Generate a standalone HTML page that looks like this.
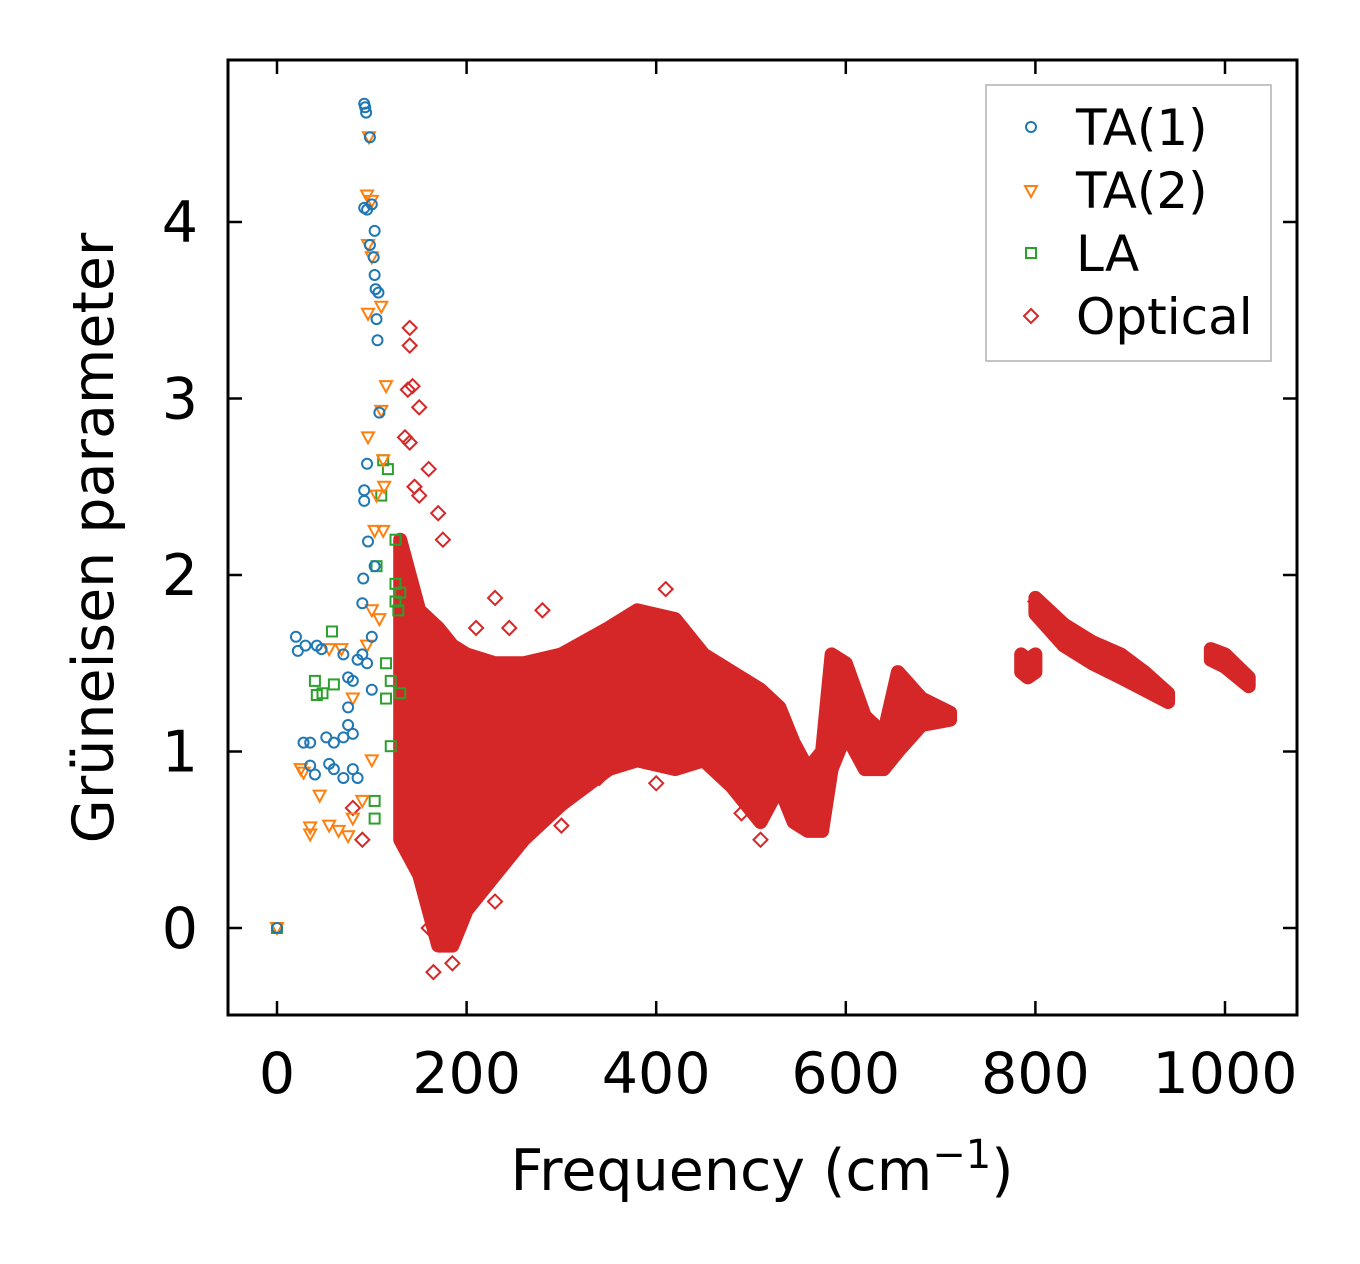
<!DOCTYPE html>
<html><head><meta charset="utf-8">
<style>
html,body{margin:0;padding:0;background:#fff;}
svg{display:block;font-family:"DejaVu Sans","Liberation Sans",sans-serif;}
</style></head>
<body>
<svg id="chart" width="1360" height="1264" viewBox="0 0 1360 1264" xmlns="http://www.w3.org/2000/svg">
<g id="marks"></g>
<g id="axes"></g>
<text x="762" y="1190" font-size="57" text-anchor="middle">Frequency (cm<tspan dy="-22" font-size="40">−1</tspan><tspan dy="22">)</tspan></text>
<text transform="translate(113,538) rotate(-90)" font-size="57" text-anchor="middle">Grüneisen parameter</text>
<g>
<rect x="986" y="85" width="285" height="276" fill="#fff" stroke="#b0b0b0" stroke-width="1.5"/>
<circle cx="1031" cy="127" r="5" fill="none" stroke="#1f77b4" stroke-width="2"/>
<text x="1076" y="145" font-size="50">TA(1)</text>
<path d="M1025,186 L1037,186 L1031,197 Z" fill="none" stroke="#ff7f0e" stroke-width="2"/>
<text x="1076" y="208" font-size="50">TA(2)</text>
<rect x="1026" y="248" width="10" height="10" fill="none" stroke="#2ca02c" stroke-width="2"/>
<text x="1076" y="271" font-size="50">LA</text>
<path d="M1031,309 L1038,316 L1031,323 L1024,316 Z" fill="none" stroke="#d62728" stroke-width="2"/>
<text x="1076" y="334" font-size="50">Optical</text>
</g>
</svg>
<script>
// ---- data ----
const xTicks = [0, 200, 400, 600, 800, 1000];
const yTicks = [0, 1, 2, 3, 4];
const opticalBandFreq = [[130,150,170,185,200,230,260,300,350,380,420,450,480,510,530,545,560,575,585,600,620,640,655,680,710],[785,792,800],[800,830,860,890,915,940],[985,1000,1025]];
const opticalBandLow = [[0.5,0.3,-0.1,-0.1,0.1,0.3,0.5,0.7,0.9,0.95,0.9,0.95,0.8,0.6,0.8,0.6,0.55,0.55,0.9,1.1,0.9,0.9,1.0,1.15,1.18],[1.45,1.42,1.45],[1.78,1.6,1.5,1.42,1.35,1.28],[1.52,1.48,1.37]];
const opticalBandHigh = [[2.2,1.8,1.7,1.6,1.55,1.5,1.5,1.55,1.7,1.8,1.75,1.55,1.45,1.35,1.25,1.05,0.9,1.0,1.55,1.5,1.2,1.1,1.45,1.3,1.22],[1.55,1.52,1.55],[1.87,1.72,1.62,1.55,1.45,1.33],[1.58,1.55,1.42]];
const opticalFreq = [140,140,138,143,150,135,140,160,145,170,230,245,280,410,80,165,185,160,230,300,340,400,490,510,800,90,175,150,210];
const opticalGamma = [3.4,3.3,3.05,3.07,2.95,2.78,2.75,2.6,2.5,2.35,1.87,1.7,1.8,1.92,0.68,-0.25,-0.2,0.0,0.15,0.58,0.85,0.82,0.65,0.5,1.85,0.5,2.2,2.45,1.7];
const ta1Freq = [92,93,94,98,92,95,100,103,98,102,103,104,107,105,106,108,95,92,92,96,103,91,90,100,20,22,30,42,47,70,85,80,75,28,35,52,60,70,75,80,35,40,55,60,70,80,85,0,95,90,100,75];
const ta1Gamma = [4.67,4.65,4.62,4.48,4.08,4.07,4.1,3.95,3.87,3.8,3.7,3.62,3.6,3.45,3.33,2.92,2.63,2.48,2.42,2.19,2.05,1.98,1.84,1.65,1.65,1.57,1.6,1.6,1.58,1.55,1.52,1.4,1.42,1.05,1.05,1.08,1.05,1.08,1.15,1.1,0.92,0.87,0.93,0.9,0.85,0.9,0.85,0,1.5,1.55,1.35,1.25];
const ta2Freq = [97,95,100,96,100,110,96,115,110,96,112,105,113,103,112,100,108,95,68,55,80,25,28,45,35,35,55,65,75,80,90,100,0];
const ta2Gamma = [4.48,4.15,4.12,3.87,3.8,3.52,3.48,3.07,2.93,2.78,2.65,2.45,2.5,2.25,2.25,1.8,1.75,1.6,1.58,1.58,1.3,0.9,0.88,0.75,0.57,0.53,0.58,0.55,0.52,0.62,0.72,0.95,0];
const laFreq = [112,110,117,125,105,125,125,128,130,58,40,42,48,60,115,120,115,120,103,103,130,0];
const laGamma = [2.65,2.45,2.6,2.2,2.05,1.95,1.85,1.8,1.9,1.68,1.4,1.32,1.33,1.38,1.5,1.4,1.3,1.03,0.72,0.62,1.33,0];

// ---- scales ----
const X0 = 228, X1 = 1297, Y0 = 60, Y1 = 1015;
function xs(v){ return 277 + v * 0.948; }
function ys(v){ return 928 - v * 176.5; }
const NS = "http://www.w3.org/2000/svg";
const marks = document.getElementById('marks');
const axes = document.getElementById('axes');
function mk(tag, attrs, parent){ const e=document.createElementNS(NS,tag); for(const k in attrs) e.setAttribute(k,attrs[k]); parent.appendChild(e); return e; }

opticalBandFreq.forEach((fr, s) => {
  let d = '';
  fr.forEach((f,i)=>{ d += (i?'L':'M') + xs(f).toFixed(1) + ',' + ys(opticalBandHigh[s][i]).toFixed(1); });
  for(let i=fr.length-1;i>=0;i--){ d += 'L' + xs(fr[i]).toFixed(1) + ',' + ys(opticalBandLow[s][i]).toFixed(1); }
  d += 'Z';
  const p = mk('path', {d:d, fill:'#d62728', stroke:'#d62728', 'stroke-width':14, 'stroke-linejoin':'round'}, marks);
  
  
});
opticalFreq.forEach((f,i)=>{
  const x=xs(f), y=ys(opticalGamma[i]);
  const p = mk('path', {d:`M${x},${y-7}L${x+7},${y}L${x},${y+7}L${x-7},${y}Z`, fill:'none', stroke:'#d62728', 'stroke-width':2}, marks);
  
  
});
laFreq.forEach((f,i)=>{
  const x=xs(f), y=ys(laGamma[i]);
  const r = mk('rect', {x:x-5, y:y-5, width:10, height:10, fill:'none', stroke:'#2ca02c', 'stroke-width':2}, marks);
  
  
});
ta2Freq.forEach((f,i)=>{
  const x=xs(f), y=ys(ta2Gamma[i]);
  const p = mk('path', {d:`M${x-6},${y-5}L${x+6},${y-5}L${x},${y+6}Z`, fill:'none', stroke:'#ff7f0e', 'stroke-width':2}, marks);
  
  
});
ta1Freq.forEach((f,i)=>{
  const c = mk('circle', {cx:xs(f), cy:ys(ta1Gamma[i]), r:5, fill:'none', stroke:'#1f77b4', 'stroke-width':2}, marks);
  
  
});

const fr = mk('rect', {x:X0, y:Y0, width:X1-X0, height:Y1-Y0, fill:'none', stroke:'#000', 'stroke-width':3}, axes);


xTicks.forEach(t=>{
  const x = xs(t);
  const a = mk('line', {x1:x, x2:x, y1:Y1, y2:Y1-14, stroke:'#000', 'stroke-width':2.5}, axes);
  
  
  const b = mk('line', {x1:x, x2:x, y1:Y0, y2:Y0+14, stroke:'#000', 'stroke-width':2.5}, axes);
  
  
  const tx = mk('text', {x:x, y:1093, 'font-size':57, 'text-anchor':'middle'}, axes);
  tx.textContent = t;
  
  
});
yTicks.forEach(t=>{
  const y = ys(t);
  const a = mk('line', {x1:X0, x2:X0+14, y1:y, y2:y, stroke:'#000', 'stroke-width':2.5}, axes);
  
  
  const b = mk('line', {x1:X1, x2:X1-14, y1:y, y2:y, stroke:'#000', 'stroke-width':2.5}, axes);
  
  
  const tx = mk('text', {x:198, y:y+20, 'font-size':57, 'text-anchor':'end'}, axes);
  tx.textContent = t;
  
  
});
</script>
</body></html>
